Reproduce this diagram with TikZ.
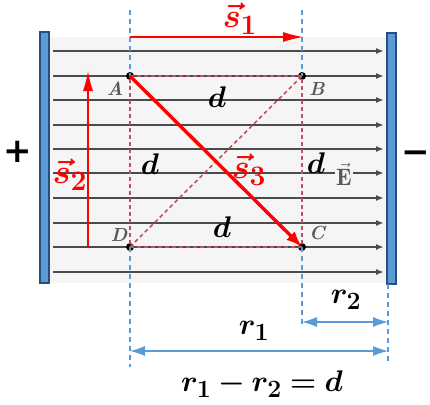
\documentclass[tikz,border=0pt]{standalone}
\usepackage{amsmath}
\usepackage{bm}
\usepackage{graphicx}
\usepackage{fontspec}
\newfontfamily\signfont{DejaVu Sans}
\usetikzlibrary{arrows.meta}
\definecolor{plateblue}{RGB}{91,155,213}
\definecolor{plateedge}{RGB}{40,78,125}
\definecolor{dimblue}{RGB}{91,155,213}
\definecolor{rectred}{RGB}{192,80,100}
\definecolor{fieldgray}{RGB}{75,75,75}
\definecolor{lettergray}{RGB}{90,90,90}
\definecolor{bggray}{RGB}{245,245,245}
\newcommand{\dtxt}[1]{\scalebox{1.2}{$\bm{#1}$}}
\newcommand{\stxt}[1]{\scalebox{1.36}{$\bm{#1}$}}
\tikzset{
  plate/.style={draw=plateedge,fill=plateblue,line width=1.8pt},
  fieldline/.style={draw=fieldgray,line width=2.3pt,-{Latex[length=8pt,width=6pt]}},
  guide/.style={draw=dimblue,line width=1.3pt,dash pattern=on 5pt off 4pt},
  dimarrow/.style={draw=dimblue,line width=1.2pt,{Latex[length=15pt,width=10pt]}-{Latex[length=15pt,width=10pt]}},
  rectline/.style={draw=rectred,line width=1.6pt,dash pattern=on 4pt off 3pt},
  vecarrow/.style={draw=red,line width=1.1pt,-{Latex[length=20pt,width=10pt]}},
  bigarrow/.style={draw=red,line width=3.4pt,-{Latex[length=16pt,width=12pt]}},
  pt/.style={circle,fill=black,inner sep=0pt,minimum size=8pt},
  corner/.style={text=lettergray,font=\fontsize{19}{19}\selectfont\bfseries\itshape,inner sep=0pt},
  dlab/.style={font=\fontsize{24.88}{26}\selectfont,inner sep=0pt},
  slab/.style={text=red,font=\fontsize{24.88}{26}\selectfont,inner sep=0pt},
  sign/.style={font=\fontsize{34}{34}\selectfont\signfont\bfseries,inner sep=0pt},
}
\begin{document}
\begin{tikzpicture}[x=1pt,y=-1pt]
\useasboundingbox (0,0) rectangle (430,404);
% background of field region
\fill[bggray] (49,37) rectangle (387,283);
% plates
\node[plate,minimum width=9pt,minimum height=251pt,inner sep=0pt] (lp) at (44.5,157.5) {};
\node[plate,minimum width=9pt,minimum height=251pt,inner sep=0pt] (rp) at (391.5,158.5) {};
% field lines
\foreach \y [count=\i] in {51,76,100,125,149,173,198,223,247,272} {
  \coordinate (fl\i) at (53,\y);
  \coordinate (fr\i) at (384,\y);
  \draw[fieldline] (fl\i) -- (fr\i);
}
% points
\node[pt] (A) at (130,76) {};
\node[pt] (B) at (302,76) {};
\node[pt] (C) at (302,247) {};
\node[pt] (D) at (130,247) {};
% guide coordinates
\coordinate (gAt) at (130,10);
\coordinate (gDb) at (130,367);
\coordinate (gBt) at (302,10);
\coordinate (gCb) at (302,327);
\coordinate (gRt) at (388,284);
\coordinate (gRb) at (388,364);
\draw[guide] (gAt) -- (A.center);
\draw[guide] (D.center) -- (gDb);
\draw[guide] (gBt) -- (B.center);
\draw[guide] (C.center) -- (gCb);
\draw[guide] (gRt) -- (gRb);
% dashed rectangle and diagonal
\draw[rectline] (A.center) -- (B.center) -- (C.center) -- (D.center) -- cycle;
\draw[rectline] (D.center) -- (B.center);
% corner letters
\node[corner] (la) at (115,89) {A};
\node[corner] (lb) at (317,89) {B};
\node[corner] (lc) at (317,233) {C};
\node[corner] (ld) at (119,235) {D};
\node[corner,fill=bggray,inner sep=1pt] (le) at (344,174) {\scalebox{1.25}{$\vec{\mathbf{E}}$}};
% vectors
\coordinate (s1a) at (130,37);
\coordinate (s1b) at (303,37);
\draw[vecarrow] (s1a) -- (s1b);
\coordinate (s2a) at (88,247);
\coordinate (s2b) at (88,71);
\draw[vecarrow] (s2a) -- (s2b);
\draw[bigarrow] (A.center) -- (C.center);
\node[slab] (s1) at (240,19) {\stxt{\vec{s}_1}};
\node[slab] (s2) at (70,175) {\stxt{\vec{s}_2}};
\node[slab] (s3) at (249,170) {\stxt{\vec{s}_3}};
% d labels
\node[dlab] (d1) at (217,97) {\dtxt{d}};
\node[dlab] (d2) at (150,164) {\dtxt{d}};
\node[dlab] (d3) at (316,163) {\dtxt{d}};
\node[dlab] (d4) at (222,227) {\dtxt{d}};
% dimension arrows
\coordinate (r2a) at (302,322);
\coordinate (r2b) at (388,322);
\draw[dimarrow] (r2a) -- (r2b);
\coordinate (r1a) at (130,351);
\coordinate (r1b) at (388,351);
\draw[dimarrow] (r1a) -- (r1b);
\node[dlab] (r2) at (346,300) {\dtxt{r_2}};
\node[dlab] (r1) at (254,331) {\dtxt{r_1}};
\node[dlab] (eq) at (262,384) {\dtxt{r_1-r_2=d}};
% signs
\node[sign] (plus) at (18,152) {+};
\node[sign] (minus) at (416,157) {−};
\end{tikzpicture}
\end{document}
